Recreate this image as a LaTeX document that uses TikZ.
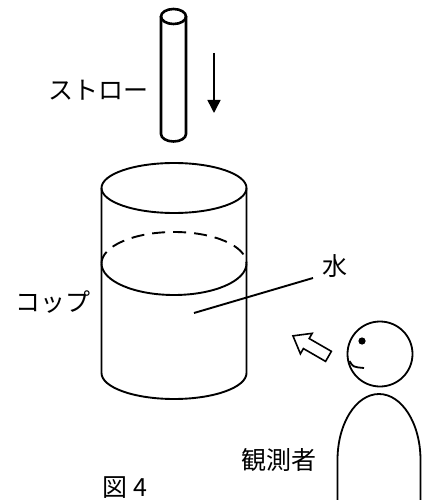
\documentclass[tikz,border=0pt]{standalone}
\usepackage{fontspec}
\newfontfamily\jpfont{Noto Sans CJK JP}
\usepackage{tikz}
\usetikzlibrary{arrows.meta}
\usetikzlibrary{shapes.arrows}
\tikzset{
    jtext/.style = {font=\jpfont\fontsize{25}{25}\selectfont, inner sep=0pt, text centered},
    straw_line/.style = {line width=2.6pt},
    cup_line/.style = {line width=1.9pt},
    water_line/.style = {cup_line, dash pattern=on 13pt off 8pt},
    person_line/.style = {line width=1.8pt},
    down_arrow/.style = {line width=1.5pt, -{Triangle[width=13pt,length=13pt]}},
    look_arrow/.style = {single arrow, draw=black, fill=white, line width=1.6pt, inner sep=5pt,
        single arrow head extend=6pt, single arrow tip angle=75, minimum height=41pt, rotate=150}
}

\begin{document}
\begin{tikzpicture}[x=1pt, y=-1pt]
    \useasboundingbox (0,0) rectangle (427,500);

    % straw
    \draw[straw_line] (173.5,16.5) ellipse [x radius=12.5, y radius=7.5];
    \draw[straw_line] (161,16.5) -- (161,134)
        arc [start angle=180, end angle=0, x radius=12.5, y radius=7.5] -- (186,16.5);
    \coordinate (drop_from) at (214,53);
    \coordinate (drop_to) at (214,113);
    \draw[down_arrow] (drop_from) -- (drop_to);
    \node[jtext] (straw_label) at (98,90) {ストロー};

    % cup with water
    \draw[cup_line] (174,188) ellipse [x radius=72.5, y radius=25];
    \draw[cup_line] (101.5,188) -- (101.5,373)
        arc [start angle=180, end angle=0, x radius=72.5, y radius=26] -- (246.5,188);
    \draw[water_line] (101.5,263.5) arc [start angle=180, end angle=360, x radius=72.5, y radius=31.5];
    \draw[cup_line] (101.5,263.5) arc [start angle=180, end angle=0, x radius=72.5, y radius=31.5];
    \node[jtext] (cup_label) at (53,302) {コップ};
    \node[jtext] (water_label) at (335,266) {水};
    \coordinate (in_water) at (194,313);
    \coordinate (water_tip) at (313,278);
    \draw[cup_line] (in_water) -- (water_tip);

    % observer
    \node[look_arrow] (look) at (314,348) {};
    \draw[person_line] (380,354) circle [radius=32.5];
    \fill (362,341) circle [radius=3.6];
    \draw[person_line] (349.5,361) .. controls (353,367) .. (364,368);
    \draw[person_line] (337.5,500) -- (337.5,460)
        arc [start angle=180, end angle=360, x radius=41.5, y radius=66] -- (420.5,500);
    \node[jtext] (observer_label) at (279,460) {観測者};

    \node[jtext, anchor=south] (fig_label) at (125,499) {図 4};
\end{tikzpicture}
\end{document}
